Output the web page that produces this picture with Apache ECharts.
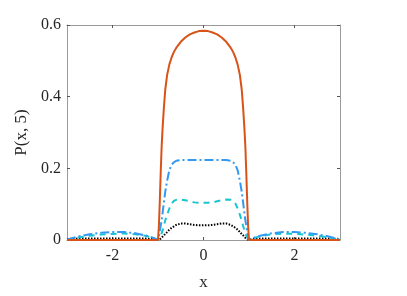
<!DOCTYPE html>
<html>
<head>
<meta charset="utf-8">
<script src="https://cdn.jsdelivr.net/npm/echarts@6/dist/echarts.min.js"></script>
<style>
  html, body { margin: 0; padding: 0; background: #fff; }
  #chart { width: 407px; height: 296px; }
</style>
</head>
<body>
<div id="chart"></div>
<script>
// x grid, denser near the edges |x| = 1
const xs = [-3, -2.75, -2.5, -2.25, -2, -1.75, -1.5, -1.25, -1.1, -1,
  -0.98, -0.96, -0.94, -0.92, -0.9, -0.87, -0.84, -0.8, -0.75, -0.7, -0.65, -0.6,
  -0.5, -0.4, -0.3, -0.2, -0.1, 0, 0.1, 0.2, 0.3, 0.4, 0.5,
  0.6, 0.65, 0.7, 0.75, 0.8, 0.84, 0.87, 0.9, 0.92, 0.94, 0.96, 0.98,
  1, 1.1, 1.25, 1.5, 1.75, 2, 2.25, 2.5, 2.75, 3];

const orange = [0, 0, 0, 0, 0, 0, 0, 0, 0, 0,
  0.04, 0.11, 0.19, 0.26, 0.31, 0.37, 0.42, 0.46, 0.49, 0.51, 0.525, 0.536,
  0.553, 0.565, 0.574, 0.579, 0.583, 0.584, 0.583, 0.579, 0.574, 0.565, 0.553,
  0.536, 0.525, 0.51, 0.49, 0.46, 0.42, 0.37, 0.31, 0.26, 0.19, 0.11, 0.04,
  0, 0, 0, 0, 0, 0, 0, 0, 0, 0];

const blue = [0.001, 0.010, 0.016, 0.020, 0.022, 0.022, 0.019, 0.012, 0.006, 0,
  0.01, 0.025, 0.04, 0.055, 0.075, 0.105, 0.135, 0.165, 0.195, 0.21, 0.217, 0.221,
  0.223, 0.223, 0.223, 0.223, 0.223, 0.223, 0.223, 0.223, 0.223, 0.223, 0.223,
  0.221, 0.217, 0.21, 0.195, 0.165, 0.135, 0.105, 0.075, 0.055, 0.04, 0.025, 0.01,
  0, 0.006, 0.012, 0.019, 0.022, 0.022, 0.020, 0.016, 0.010, 0.001];

const cyan = [0.001, 0.007, 0.012, 0.015, 0.017, 0.018, 0.016, 0.011, 0.005, 0,
  0.003, 0.008, 0.013, 0.019, 0.026, 0.04, 0.055, 0.07, 0.088, 0.102, 0.109, 0.112,
  0.113, 0.111, 0.108, 0.105, 0.104, 0.104, 0.104, 0.105, 0.108, 0.111, 0.113,
  0.112, 0.109, 0.102, 0.088, 0.07, 0.055, 0.04, 0.026, 0.019, 0.013, 0.008, 0.003,
  0, 0.005, 0.011, 0.016, 0.018, 0.017, 0.015, 0.012, 0.007, 0.001];

const black = [0.003, 0.004, 0.004, 0.004, 0.004, 0.004, 0.004, 0.004, 0.003, 0,
  0.001, 0.002, 0.004, 0.006, 0.009, 0.013, 0.017, 0.022, 0.029, 0.034, 0.038, 0.042,
  0.046, 0.046, 0.044, 0.042, 0.041, 0.041, 0.041, 0.042, 0.044, 0.046, 0.046,
  0.042, 0.038, 0.034, 0.029, 0.022, 0.017, 0.013, 0.009, 0.006, 0.004, 0.002, 0.001,
  0, 0.003, 0.004, 0.004, 0.004, 0.004, 0.004, 0.004, 0.004, 0.003];

const xTicks = [-2, 0, 2];
const yTicks = [0, 0.2, 0.4, 0.6];

const font = "'Liberation Serif', 'DejaVu Serif', serif";
const axisColor = "#9a9a9a";

function pairs(ys) {
  return xs.map((x, i) => [x, ys[i]]);
}

function xAxisCfg(pos, showLabel) {
  return {
    type: "value",
    position: pos,
    min: -3,
    max: 3,
    name: showLabel ? "x" : "",
    nameLocation: "middle",
    nameGap: 34,
    nameTextStyle: { fontFamily: font, fontSize: 17, color: "#262626" },
    axisLine: { show: true, onZero: false, lineStyle: { color: axisColor, width: 1 } },
    axisTick: { show: true, inside: true, length: 3, customValues: xTicks, lineStyle: { color: "#555" } },
    axisLabel: {
      show: showLabel,
      customValues: xTicks,
      margin: 8,
      fontFamily: font,
      fontSize: 16,
      color: "#262626"
    },
    splitLine: { show: false }
  };
}

function yAxisCfg(pos, showLabel) {
  return {
    type: "value",
    position: pos,
    min: 0,
    max: 0.6,
    name: showLabel ? "P(x, 5)" : "",
    nameLocation: "middle",
    nameGap: 33,
    nameTextStyle: { fontFamily: font, fontSize: 17, color: "#262626" },
    axisLine: { show: true, onZero: false, lineStyle: { color: axisColor, width: 1 } },
    axisTick: { show: true, inside: true, length: 3, customValues: yTicks, lineStyle: { color: "#555" } },
    axisLabel: {
      show: showLabel,
      customValues: yTicks,
      margin: 6,
      fontFamily: font,
      fontSize: 16,
      color: "#262626"
    },
    splitLine: { show: false }
  };
}

const chart = echarts.init(document.getElementById("chart"), null, { renderer: "canvas" });
chart.setOption({
  animation: false,
  backgroundColor: "#fff",
  grid: { left: 67, right: 67, top: 25, bottom: 48 },
  xAxis: [xAxisCfg("bottom", true), xAxisCfg("top", false)],
  yAxis: [yAxisCfg("left", true), yAxisCfg("right", false)],
  series: [
    {
      type: "line", data: pairs(black), showSymbol: false, z: 2,
      lineStyle: { color: "#000", width: 2, type: [1.5, 1.5] }
    },
    {
      type: "line", data: pairs(cyan), showSymbol: false, z: 3,
      lineStyle: { color: "#17c5cf", width: 2, type: [6, 5] }
    },
    {
      type: "line", data: pairs(blue), showSymbol: false, z: 4,
      lineStyle: { color: "#3399f2", width: 2, type: [9, 3, 2, 3] }
    },
    {
      type: "line", data: pairs(orange), showSymbol: false, z: 5,
      lineStyle: { color: "#d95319", width: 2 }
    }
  ]
});
</script>
</body>
</html>
